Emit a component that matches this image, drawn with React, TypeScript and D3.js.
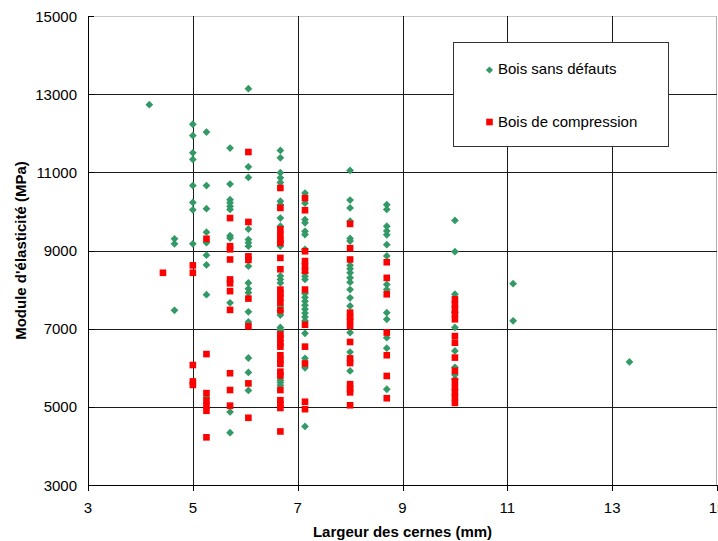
import React from "react";
import * as d3 from "d3";

// ---- Data ----
const xTicks = [3, 5, 7, 9, 11, 13, 15];
const yTicks = [3000, 5000, 7000, 9000, 11000, 13000, 15000];

const seriesNames = ["Bois sans défauts", "Bois de compression"];

// Bois sans défauts: ring width (mm) -> moduli (MPa)
const sansDefauts: { x: number; y: number[] }[] = [
  { x: 4.17, y: [12730] },
  { x: 4.65, y: [9300, 9170, 7470] },
  { x: 5.0, y: [12230, 11940, 11500, 11330, 10660, 10230, 10040, 9170] },
  { x: 5.26, y: [12030, 10660, 10070, 9470, 9200, 8880, 8630, 7870, 5240] },
  { x: 5.71, y: [11620, 10700, 10300, 10220, 10130, 10050, 9380, 9320, 7660, 4870, 4340] },
  { x: 6.06, y: [13140, 11140, 10870, 9550, 9280, 9200, 9110, 8600, 8170, 8020, 7920, 7430, 7170, 6250, 5880, 5420] },
  { x: 6.67, y: [11560, 11370, 10990, 10860, 10740, 10260, 10170, 9830, 9620, 9110, 8350, 8260, 8170, 7580, 7450, 7350, 7030, 6980, 6940, 5680, 5620, 5550] },
  { x: 7.14, y: [10470, 10210, 9790, 9710, 9490, 9410, 9030, 8430, 8340, 8260, 7900, 7800, 7700, 7600, 7500, 7400, 7300, 7200, 6880, 6240, 6000, 4500] },
  { x: 8.0, y: [11050, 10290, 10090, 9750, 9310, 9240, 8620, 8530, 8430, 8300, 8190, 8000, 7790, 7580, 6900, 6400, 5920] },
  { x: 8.7, y: [10170, 10050, 9620, 9500, 9400, 9150, 8860, 8130, 8000, 7410, 7240, 6770, 6500, 5450] },
  { x: 10.0, y: [9770, 8970, 7880, 7410, 7030, 6430, 6010, 5820, 5700] },
  { x: 11.11, y: [8150, 7200] },
  { x: 13.33, y: [6150] },
];

// Bois de compression
const compression: { x: number; y: number[] }[] = [
  { x: 4.43, y: [8430] },
  { x: 5.0, y: [8620, 8430, 6070, 5650, 5560] },
  { x: 5.26, y: [9300, 6350, 5350, 5160, 5030, 4900, 4220] },
  { x: 5.71, y: [9830, 9110, 9030, 8770, 8260, 8160, 7960, 7480, 5860, 5430, 5030] },
  { x: 6.06, y: [11520, 9730, 8850, 8760, 7770, 7060, 5600, 4720] },
  { x: 6.67, y: [10600, 10090, 9540, 9400, 9270, 9200, 8810, 8520, 8000, 7900, 7800, 7670, 7470, 6850, 6750, 6630, 6540, 6320, 6200, 6100, 5900, 5800, 5430, 5170, 5070, 4970, 4370] },
  { x: 7.14, y: [10340, 10030, 8980, 8730, 8600, 8480, 8000, 7100, 6540, 6110, 5130, 4940] },
  { x: 8.0, y: [9680, 9060, 8770, 7410, 7300, 7200, 7070, 6660, 6240, 6120, 5580, 5460, 5370, 5040] },
  { x: 8.7, y: [8700, 8300, 7880, 6900, 6320, 5790, 5220] },
  { x: 10.0, y: [7750, 7620, 7500, 7380, 7240, 6810, 6640, 6260, 5920, 5660, 5500, 5370, 5240, 5100] },
];

const GREEN = "#339966";
const RED = "#FF0000";
const FONT = "'Liberation Sans', Arial, Helvetica, sans-serif";

function flatten(groups: { x: number; y: number[] }[]) {
  const out: [number, number][] = [];
  groups.forEach((g) => g.y.forEach((v) => out.push([g.x, v])));
  return out;
}

export default function App() {
  const W = 718;
  const H = 541;
  const left = 88;
  const right = 717;
  const top = 16;
  const bottom = 485;

  const x = d3.scaleLinear().domain([3, 15]).range([left, right]);
  const y = d3.scaleLinear().domain([3000, 15000]).range([bottom, top]);

  const crisp = (v: number) => Math.round(v) + 0.5;

  const diamond = (cx: number, cy: number, r: number) =>
    `M${cx},${cy - r}L${cx + r},${cy}L${cx},${cy + r}L${cx - r},${cy}Z`;

  const greenPts = flatten(sansDefauts);
  const redPts = flatten(compression);
  const sq = 6.6;

  return (
    <div style={{ position: "absolute", left: 0, top: 0 }}>
      <svg width={W} height={H} style={{ display: "block", background: "#fff" }}>
        <rect x={0} y={0} width={W} height={H} fill="#fff" />
        {/* plot border top/right */}
        <line x1={left} x2={right} y1={crisp(top)} y2={crisp(top)} stroke="#c8c8c8" strokeWidth={1} />
        <line x1={crisp(right - 1)} x2={crisp(right - 1)} y1={top} y2={bottom} stroke="#b0b0b0" strokeWidth={1} />
        {/* gridlines */}
        {yTicks.filter((t) => t > 3000 && t < 15000).map((t) => (
          <line key={"gy" + t} x1={left} x2={right} y1={crisp(y(t))} y2={crisp(y(t))} stroke="#1a1a1a" strokeWidth={1} />
        ))}
        {xTicks.filter((t) => t > 3 && t < 15).map((t) => (
          <line key={"gx" + t} x1={crisp(x(t))} x2={crisp(x(t))} y1={top} y2={bottom} stroke="#1a1a1a" strokeWidth={1} />
        ))}
        {/* axes */}
        <line x1={crisp(left)} x2={crisp(left)} y1={top} y2={bottom + 1} stroke="#000" strokeWidth={1} />
        <line x1={left} x2={right} y1={crisp(bottom)} y2={crisp(bottom)} stroke="#000" strokeWidth={1} />
        {yTicks.map((t) => (
          <line key={"ty" + t} x1={left} x2={left + 6} y1={crisp(y(t))} y2={crisp(y(t))} stroke="#000" strokeWidth={1} />
        ))}
        {xTicks.map((t) => (
          <line key={"tx" + t} x1={crisp(x(t))} x2={crisp(x(t))} y1={bottom} y2={bottom + 6} stroke="#000" strokeWidth={1} />
        ))}
        {/* tick labels */}
        {yTicks.map((t) => (
          <text key={"ly" + t} x={77} y={y(t) + 5.5} textAnchor="end" fontFamily={FONT} fontSize={15} fill="#000">
            {t}
          </text>
        ))}
        {xTicks.map((t) => (
          <text key={"lx" + t} x={x(t)} y={513} textAnchor="middle" fontFamily={FONT} fontSize={15} fill="#000">
            {t}
          </text>
        ))}
        {/* axis titles */}
        <text x={(left + right) / 2} y={537} textAnchor="middle" fontFamily={FONT} fontSize={15} fontWeight="bold" fill="#000">
          Largeur des cernes (mm)
        </text>
        <text
          transform={`translate(25.5,${(top + bottom) / 2}) rotate(-90)`}
          textAnchor="middle"
          fontFamily={FONT}
          fontSize={15}
          fontWeight="bold"
          fill="#000"
        >
          Module d'élasticité (MPa)
        </text>
        {/* series */}
        <g>
          {greenPts.map(([a, b], i) => (
            <path key={"g" + i} d={diamond(x(a), y(b), 3.9)} fill={GREEN} />
          ))}
        </g>
        <g>
          {redPts.map(([a, b], i) => (
            <rect key={"r" + i} x={x(a) - sq / 2} y={y(b) - sq / 2} width={sq} height={sq} fill={RED} />
          ))}
        </g>
        {/* legend */}
        <rect x={453.5} y={42.5} width={215} height={104} fill="#fff" stroke="#333" strokeWidth={1} />
        <path d={diamond(489.5, 70, 3.6)} fill={GREEN} />
        <text x={498} y={74} fontFamily={FONT} fontSize={15} fill="#000">
          {seriesNames[0]}
        </text>
        <rect x={489.5 - 3.3} y={122 - 3.3} width={6.6} height={6.6} fill={RED} />
        <text x={498} y={126.7} fontFamily={FONT} fontSize={15} fill="#000">
          {seriesNames[1]}
        </text>
      </svg>
    </div>
  );
}
